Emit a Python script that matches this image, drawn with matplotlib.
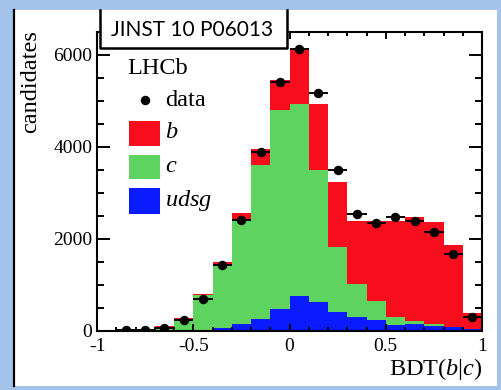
import numpy as np
import matplotlib
matplotlib.use("Agg")
import matplotlib.pyplot as plt
from matplotlib.patches import Rectangle
from matplotlib.lines import Line2D
from matplotlib.ticker import MultipleLocator, FixedLocator, FixedFormatter

# ---- data: BDT(b|c) distribution, 20 bins from -1 to 1 ----
bin_edges = np.linspace(-1.0, 1.0, 21)
data = np.array([0, 8, 12, 65, 232, 696, 1421, 2407, 3892, 5413,
                 6139, 5174, 3487, 2537, 2340, 2465, 2385, 2139, 1668, 298])
udsg = np.array([12, 10, 10, 10, 10, 12, 55, 145, 260, 480,
                 765, 617, 400, 304, 232, 117, 145, 102, 74, 30])
c_jets = np.array([3, 5, 10, 80, 245, 764, 1358, 2262, 3342, 4319,
                   4165, 2876, 1413, 711, 407, 187, 66, 37, 13, 7])
b_jets = np.array([0, 2, 3, 6, 14, 22, 74, 145, 342, 667,
                   1172, 1450, 1413, 1377, 1753, 2088, 2254, 2224, 1776, 342])
xtick_vals = [-1, -0.5, 0, 0.5, 1]
xtick_labels = ["-1", "-0.5", "0", "0.5", "1"]
ytick_vals = [0, 2000, 4000, 6000]
ytick_labels = ["0", "2000", "4000", "6000"]

RED = "#f70d1c"
GREEN = "#5fd35f"
BLUE = "#0a1cff"
BG = "#a4c3ea"

plt.rcParams["font.family"] = ["Liberation Serif", "DejaVu Serif"]
plt.rcParams["mathtext.fontset"] = "custom"
plt.rcParams["mathtext.rm"] = "Liberation Serif"
plt.rcParams["mathtext.it"] = "Liberation Serif:italic"

W, H = 501, 390
fig = plt.figure(figsize=(W / 100, H / 100), dpi=100, facecolor=BG)


def px(x, y):
    """pixel position (from top-left) -> figure fraction"""
    return x / W, 1 - y / H


# white panel with a dark left edge
x0, y0 = px(13, 386)
x1, y1 = px(497, 10)
fig.patches.append(Rectangle((x0, y0), x1 - x0, y1 - y0, transform=fig.transFigure,
                             facecolor="white", edgecolor="none", zorder=-2))
lx, _ = px(14, 0)
fig.lines.append(Line2D([lx, lx], [y0, y1], transform=fig.transFigure,
                        color="black", lw=1.6, zorder=-1))

ax_l, ax_b = px(97, 330.7)
ax_r, ax_t = px(482, 32)
ax = fig.add_axes([ax_l, ax_b, ax_r - ax_l, ax_t - ax_b])
ax.set_zorder(1)
ax.set_facecolor("white")

# stacked histogram: udsg, c, b
lvl1 = udsg
lvl2 = udsg + c_jets
lvl3 = udsg + c_jets + b_jets
ax.stairs(lvl3, bin_edges, baseline=lvl2, fill=True, color=RED, lw=0, zorder=2)
ax.stairs(lvl2, bin_edges, baseline=lvl1, fill=True, color=GREEN, lw=0, zorder=2)
ax.stairs(lvl1, bin_edges, baseline=0, fill=True, color=BLUE, lw=0, zorder=2)

# data points
centers = 0.5 * (bin_edges[:-1] + bin_edges[1:])
half_w = 0.5 * np.diff(bin_edges)
mask = data > 0
ax.errorbar(centers[mask], data[mask], xerr=half_w[mask], yerr=np.sqrt(data[mask]),
            fmt="o", color="black", ms=5.8, elinewidth=1.4, capsize=0, zorder=4)

ax.set_xlim(-1, 1)
ax.set_ylim(0, 6500)

ax.xaxis.set_major_locator(FixedLocator(xtick_vals))
ax.xaxis.set_major_formatter(FixedFormatter(xtick_labels))
ax.xaxis.set_minor_locator(MultipleLocator(0.1))
ax.yaxis.set_major_locator(FixedLocator(ytick_vals))
ax.yaxis.set_major_formatter(FixedFormatter(ytick_labels))
ax.yaxis.set_minor_locator(MultipleLocator(500))

ax.tick_params(axis="both", which="both", direction="in", top=True, right=True,
               width=1.4, colors="black", labelsize=14)
ax.tick_params(axis="y", which="major", length=9.5, pad=3.5)
ax.tick_params(axis="y", which="minor", length=4.8)
ax.tick_params(axis="x", which="major", length=5.0, pad=5)
ax.tick_params(axis="x", which="minor", length=2.6)
for s in ax.spines.values():
    s.set_linewidth(1.5)
    s.set_zorder(5)
ax.set_axisbelow(False)

ax.set_xlabel("BDT($b|c$)", fontsize=17.5, loc="right")
ax.xaxis.set_label_coords(1.0, -0.085)
ax.set_ylabel("candidates", fontsize=17.5, loc="top")
ax.yaxis.set_label_coords(-0.145, 1.005)

# legend block
fig.text(*px(127, 68), "LHCb", fontsize=17.5, ha="left", va="center", zorder=6)
fig.lines.append(Line2D([px(145, 0)[0]], [px(0, 100)[1]], transform=fig.transFigure,
                        marker="o", ms=5.8, color="black", lw=0, zorder=6))
fig.text(*px(165, 101), "data", fontsize=17.5, ha="left", va="center", zorder=6)
legend_rows = [(RED, "$b$", 120.7, 146), (GREEN, "$c$", 155, 179.3), (BLUE, "$udsg$", 188.3, 214)]
for col, lab, ytop, ybot in legend_rows:
    rx0, ry0 = px(129.3, ybot)
    rx1, ry1 = px(160, ytop)
    fig.patches.append(Rectangle((rx0, ry0), rx1 - rx0, ry1 - ry0, transform=fig.transFigure,
                                 facecolor=col, edgecolor="none", zorder=6))
    fig.text(*px(165, 0.5 * (ytop + ybot) - 1), lab, fontsize=17.5, ha="left", va="center", zorder=6)

# journal reference tag
bx0, by0 = px(100, 48)
bx1, by1 = px(287, 10)
fig.patches.append(Rectangle((bx0, by0), bx1 - bx0, by1 - by0, transform=fig.transFigure,
                             facecolor="white", edgecolor="none", zorder=7))
fig.lines.append(Line2D([bx0, bx0, bx1, bx1], [by1, by0, by0, by1], transform=fig.transFigure,
                        color="black", lw=1.8, zorder=8))
fig.text(*px(192, 30), "JINST 10 P06013", fontsize=15, ha="center", va="center",
         family=["Lato", "DejaVu Sans"], zorder=9)

fig.savefig("out.png", dpi=100, facecolor=BG)
